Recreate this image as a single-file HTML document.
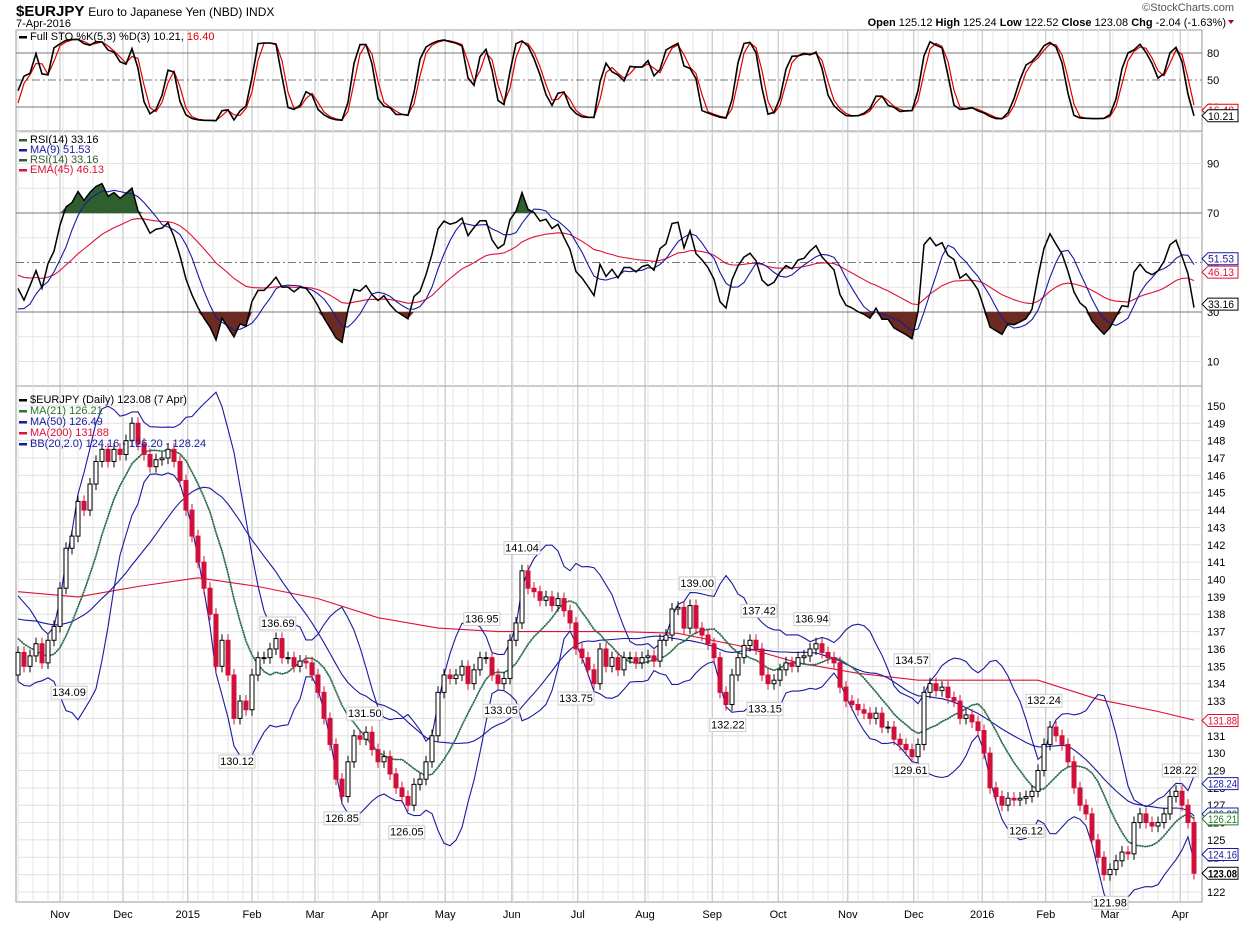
<!DOCTYPE html>
<html><head><meta charset="utf-8"><style>
body{margin:0;background:#fff;width:1240px;height:928px;overflow:hidden;font-family:"Liberation Sans",sans-serif}
svg text{font-family:"Liberation Sans",sans-serif}
</style></head><body>
<svg id="chart" width="1240" height="928" xmlns="http://www.w3.org/2000/svg">
<text x="16" y="16" font-size="15" font-weight="bold">$EURJPY <tspan font-size="12" font-weight="normal">Euro to Japanese Yen (NBD) INDX</tspan></text>
<text x="16" y="27" font-size="11">7-Apr-2016</text>
<text x="1234" y="11" font-size="11" fill="#555" text-anchor="end">©StockCharts.com</text>
<text x="1226" y="26" font-size="11" text-anchor="end"><tspan font-weight="bold">Open</tspan> 125.12 <tspan font-weight="bold">High</tspan> 125.24 <tspan font-weight="bold">Low</tspan> 122.52 <tspan font-weight="bold">Close</tspan> 123.08 <tspan font-weight="bold">Chg</tspan> -2.04 (-1.63%)</text>
<path d="M1228 20 l6 0 l-3 4z" fill="#b00020"/>
<g id="g"></g>
</svg>
<script>
const closes=[135.8,135.0,135.6,136.3,135.2,136.5,137.3,
139.5,141.8,142.5,144.5,144.0,145.5,146.8,147.5,146.8,147.5,
147.2,148.0,149.0,147.8,147.2,146.5,146.9,147.0,147.5,146.8,145.7,
144.0,142.5,141.0,139.5,138.0,135.0,136.5,134.5,132.0,133.0,132.5,134.5,
135.5,135.5,136.0,136.6,135.5,135.5,135.0,135.3,135.2,134.5,
133.5,132.0,130.5,128.5,127.5,129.5,131.0,130.8,131.2,130.2,129.5,
129.8,128.8,128.0,127.5,127.0,128.2,128.5,129.5,131.0,133.5,
134.5,134.3,134.5,135.0,134.0,134.8,135.5,135.5,134.5,134.0,134.3,136.5,
137.5,140.5,139.5,139.3,138.8,139.0,138.5,138.9,138.2,137.5,136.0,
135.5,134.8,134.0,136.0,135.0,135.5,134.8,135.5,135.5,135.2,135.5,
135.6,135.3,136.5,136.8,138.3,138.4,137.2,138.5,137.2,136.8,136.3,
135.5,133.5,132.8,134.5,135.5,136.2,136.5,136.0,134.5,134.0,134.2,
134.8,135.2,135.0,135.5,135.6,136.0,136.3,135.8,135.5,135.2,133.8,133.0,
132.8,132.5,132.3,132.0,132.3,131.5,131.5,130.8,130.5,130.2,129.8,
130.5,133.5,134.0,133.6,133.8,133.2,133.0,132.0,132.2,131.8,131.3,
130.0,128.0,127.5,127.0,127.4,127.3,127.4,127.5,127.8,129.0,130.5,
131.5,131.0,130.5,129.5,128.0,127.0,126.5,125.0,124.0,123.0,123.3,
123.8,124.3,124.2,126.0,126.5,126.0,125.8,126.0,126.5,127.5,127.8,
127.0,126.0,123.08];
const history=[136.8,136.6,136.3,137.0,137.5,138.2,138.7,139.2,139.8,140.1,139.7,139.2,138.9,138.3,138.7,138.9,138.2,137.7,138.0,137.5,137.2,136.3,135.8,135.0,134.5];
const ma200Idx=[0,10,20,30,40,50,60,70,80,90,100,110,120,130,140,150,160,170,180,190,196];
const ma200Val=[139.3,139.0,139.6,140.1,139.6,138.9,137.8,137.2,137.0,137.0,137.0,136.9,136.2,135.2,134.6,134.2,134.2,134.2,133.1,132.4,131.9];
const monthLabels=["Nov","Dec","2015","Feb","Mar","Apr","May","Jun","Jul","Aug","Sep","Oct","Nov","Dec","2016","Feb","Mar","Apr"];
const monthIdx=[7,17.5,28.3,39,49.5,60.3,71.2,82.3,93.3,104.5,115.7,126.7,138.3,149.3,160.7,171.3,182,193.7];
const priceTicks=[122,123,124,125,126,127,128,129,130,131,132,133,134,135,136,137,138,139,140,141,142,143,144,145,146,147,148,149,150];
const peakLabels=[[134.09,8.5,-1],[130.12,36.5,-1],[136.69,43.3,1],[131.50,57.8,1],[126.85,54,-1],[126.05,64.8,-1],[136.95,77.3,1],[133.05,80.5,-1],[141.04,84,1],[133.75,93,-1],[139.00,113.2,1],[137.42,123.5,1],[132.22,118.3,-1],[133.15,124.5,-1],[136.94,132.3,1],[134.57,149,1],[129.61,148.8,-1],[132.24,171,1],[126.12,168,-1],[121.98,182,-1],[128.22,193.7,1]];

const NS="http://www.w3.org/2000/svg";
const G=document.getElementById('g');
function el(t,a,p){const e=document.createElementNS(NS,t);for(const k in a)e.setAttribute(k,a[k]);(p||G).appendChild(e);return e;}
const N=closes.length, L=16, R=1202;
const X=i=>18+i*(1176/(N-1));
const yS=v=>125-0.9*v, yR=v=>262.5-(v-50)*2.475, yP=p=>892-(p-122)*17.36;
const all=history.concat(closes), H0=history.length;
const opens=all.map((c,i)=>i?all[i-1]:c);
const highs=all.map((c,i)=>Math.max(c,opens[i])+0.35), lows=all.map((c,i)=>Math.min(c,opens[i])-0.35);
function sma(a,n){return a.map((v,i)=>{const s=a.slice(Math.max(0,i-n+1),i+1);return s.reduce((x,y)=>x+y,0)/s.length;});}
function ema(a,n){const k=2/(n+1);let e=a[0];return a.map(v=>e=v*k+e*(1-k));}
function sd(a,n){return a.map((v,i)=>{const s=a.slice(Math.max(0,i-n+1),i+1);const m=s.reduce((x,y)=>x+y,0)/s.length;return Math.sqrt(s.reduce((x,y)=>x+(y-m)*(y-m),0)/s.length);});}
const vis=a=>a.slice(H0);
function path(vals,fx,fy){return vals.map((v,i)=>(i?'L':'M')+fx(i).toFixed(1)+' '+fy(v).toFixed(1)).join('');}

const panels=[[30,131],[131,386],[386,902]];
panels.forEach((p,k)=>{const r=el('rect',{x:L,y:p[0],width:R-L,height:p[1]-p[0],fill:'none',stroke:'#999'});

});
for(let w=0;w<N;w+=2.5){const x=X(w);if(x>R)break;
 panels.forEach(p=>el('line',{x1:x,x2:x,y1:p[0],y2:p[1],stroke:'#e4e4e4'}));}
monthIdx.forEach((m,k)=>{const x=X(m);
 panels.forEach(p=>el('line',{x1:x,x2:x,y1:p[0],y2:p[1],stroke:'#bbb'}));
 const t=el('text',{x:x,y:918,'font-size':11,'text-anchor':'middle'});t.textContent=monthLabels[k];
 
 });
priceTicks.forEach(p=>{const y=yP(p);el('line',{x1:L,x2:R,y1:y,y2:y,stroke:'#e0e0e0'});
 const t=el('text',{x:1207,y:y+4,'font-size':11});t.textContent=p;
 
 });
[10,20,30,40,50,60,70,80,90].forEach(v=>{const y=yR(v);
 el('line',{x1:L,x2:R,y1:y,y2:y,stroke:v==30||v==70||v==50?'#777':'#e4e4e4','stroke-dasharray':v==50?'8 3 2 3':'none'});
 if(v%20==10){const t=el('text',{x:1207,y:y+4,'font-size':11});t.textContent=v;
 
 }});
[20,50,80].forEach(v=>{const y=yS(v);el('line',{x1:L,x2:R,y1:y,y2:y,stroke:'#777','stroke-dasharray':v==50?'8 3 2 3':'none'});
 const t=el('text',{x:1207,y:y+4,'font-size':11});t.textContent=v;
 
 });
el('line',{x1:L,x2:R,y1:yS(-8),y2:yS(-8),stroke:'#e4e4e4'});

// Stochastic
const rawK=all.map((c,i)=>{const hh=Math.max(...highs.slice(Math.max(0,i-3),i+1)),ll=Math.min(...lows.slice(Math.max(0,i-3),i+1));return (c-ll)/(hh-ll)*100;});
const K=sma(rawK,2), D=sma(K,2);
const pd=el('path',{d:path(vis(D),X,yS),fill:'none',stroke:'#e00000','stroke-width':1.2});


const pk=el('path',{d:path(vis(K),X,yS),fill:'none',stroke:'#000','stroke-width':1.6});



// RSI
const RP=11;
let ag=0.3,al=0.3;const rsi=all.map((c,i)=>{if(!i)return 50;const d=c-all[i-1];ag=(ag*(RP-1)+Math.max(d,0))/RP;al=(al*(RP-1)+Math.max(-d,0))/RP;return al==0?100:100-100/(1+ag/al);});
const rv=vis(rsi), rma=vis(sma(rsi,5)), rema=vis(ema(rsi,22));
function fillZone(th,up,col,name){let d='';rv.forEach((v,i)=>{const c=up?Math.max(v,th):Math.min(v,th);d+=(i?'L':'M')+X(i).toFixed(1)+' '+yR(c).toFixed(1);});
 d+='L'+X(N-1)+' '+yR(th)+'L'+X(0)+' '+yR(th)+'Z';const f=el('path',{d:d,fill:col});
 
 }
fillZone(70,true,'#2f5e2f','rsi-overbought-fill');fillZone(30,false,'#6b2a22','rsi-oversold-fill');
const pe=el('path',{d:path(rema,X,yR),fill:'none',stroke:'#e0103a','stroke-width':1.1});


const pm=el('path',{d:path(rma,X,yR),fill:'none',stroke:'#1a1aa0','stroke-width':1.1});


const pr=el('path',{d:path(rv,X,yR),fill:'none',stroke:'#000','stroke-width':1.5});



// Price overlays
const ma21=vis(sma(all,10)), ma50=vis(sma(all,25)), sdv=vis(sd(all,10));
const bbU=ma21.map((m,i)=>m+2*sdv[i]), bbL=ma21.map((m,i)=>m-2*sdv[i]);
const m200=el('path',{d:ma200Val.map((v,k)=>(k?'L':'M')+X(ma200Idx[k]).toFixed(1)+' '+yP(v).toFixed(1)).join(''),fill:'none',stroke:'#e0103a','stroke-width':1.1});


[[bbU,'bb-upper'],[bbL,'bb-lower'],[ma50,'ma50-line']].forEach(a=>{const p=el('path',{d:path(a[0],X,yP),fill:'none',stroke:'#1a1aa0','stroke-width':1.1});
 
 });
const bm=el('path',{d:path(ma21,X,yP),fill:'none',stroke:'#3040c0','stroke-width':2,'stroke-dasharray':'1 1.5'});


const m21=el('path',{d:path(ma21,X,yP),fill:'none',stroke:'#2a7a2a','stroke-width':1.1});


for(let i=0;i<N;i++){const j=i+H0,o=opens[j],c=all[j],x=X(i),up=c>=o,col=up?'#000':'#d0103a';
 const g=el('g',{});
 
 
 el('line',{x1:x,x2:x,y1:yP(highs[j]),y2:yP(lows[j]),stroke:col},g);
 const t=yP(Math.max(o,c)),b=yP(Math.min(o,c));
 el('rect',{x:x-2,y:t,width:4,height:Math.max(1,b-t),fill:up?'#fff':col,stroke:col,'stroke-width':1},g);}
peakLabels.forEach(pl=>{const x=X(pl[1]),y=pl[2]>0?yP(pl[0])-14:yP(pl[0])+10;const g=el('g',{});
 
 
 el('rect',{x:x-18,y:y-6,width:36,height:13,fill:'#fff',stroke:'#ccc'},g);
 const t=el('text',{x:x,y:y+4,'font-size':11,'text-anchor':'middle'},g);t.textContent=pl[0].toFixed(2);});
function box(y,txt,col,name,bold){const g=el('g',{});
 
 
 el('path',{d:`M1202 ${y} l6 -6 h30 v12 h-30z`,fill:'#fff',stroke:col},g);
 const t=el('text',{x:1208,y:y+4,'font-size':11,fill:bold?'#000':col,'font-weight':bold?'bold':'normal',textLength:txt.length>5?29:26,lengthAdjust:'spacingAndGlyphs'},g);t.textContent=txt;}
box(yS(16.4),'16.40','#e00000','sto-d-value');box(yS(10.21),'10.21','#000','sto-k-value');
box(yR(51.53),'51.53','#1a1aa0','rsi-ma-value');box(yR(46.13),'46.13','#e0103a','rsi-ema-value');box(yR(33.16),'33.16','#000','rsi-value');
box(yP(131.88),'131.88','#e0103a','ma200-value');box(yP(128.24),'128.24','#1a1aa0','bb-upper-value');
box(yP(126.49),'126.20','#1a1aa0','bb-mid-value');box(yP(126.21),'126.21','#2a7a2a','ma21-value');
box(yP(124.16),'124.16','#1a1aa0','bb-lower-value');box(yP(123.08),'123.08','#000','close-value',true);
function leg(x,y,col,txt,name,col2){const g=el('g',{});
 
 
 el('rect',{x:x,y:y-4,width:8,height:2.5,fill:col},g);
 const t=el('text',{x:x+11,y:y,'font-size':11,fill:col2||col},g);t.innerHTML=txt;}
leg(19,40,'#000','Full STO %K(5,3) %D(3) 10.21, <tspan fill="#e00000">16.40</tspan>','sto-legend');
leg(19,143,'#2f5e2f','RSI(14) 33.16','rsi-legend-title','#000');
leg(19,153,'#1a1aa0','MA(9) 51.53','rsi-ma-legend');
leg(19,163,'#2f5e2f','RSI(14) 33.16','rsi-legend');
leg(19,173,'#e0103a','EMA(45) 46.13','rsi-ema-legend');
leg(19,403,'#000','$EURJPY (Daily) 123.08 (7 Apr)','price-legend');
leg(19,414,'#2a7a2a','MA(21) 126.21','ma21-legend');
leg(19,425,'#1a1aa0','MA(50) 126.49','ma50-legend');
leg(19,436,'#e0103a','MA(200) 131.88','ma200-legend');
leg(19,447,'#1a1aa0','BB(20,2.0) 124.16 - 126.20 - 128.24','bb-legend');
</script>
</body></html>
